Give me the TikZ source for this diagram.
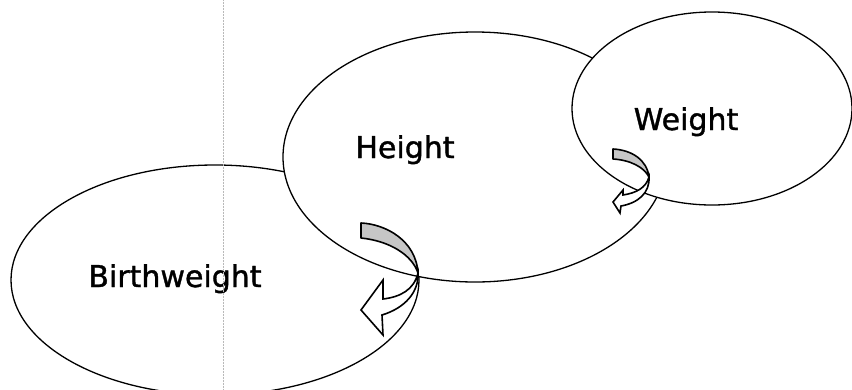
\documentclass[tikz,border=0pt]{standalone}
\usepackage{fontspec}
\setmainfont{DejaVu Sans}
\newfontfamily\labelfont[FakeBold=1.2]{DejaVu Sans}
\usetikzlibrary{shapes.geometric}
\begin{document}
\begin{tikzpicture}[x=1pt,y=-1pt,
  blob/.style={ellipse, draw=black, line width=1.3pt, fill=white, inner sep=0pt},
  label/.style={anchor=base, font=\labelfont\fontsize{30}{36}\selectfont},
  backface/.style={draw=black, line width=1.6pt, fill=gray!45, line join=round},
  frontface/.style={draw=black, line width=1.6pt, fill=white, line join=miter},
  guide/.style={draw=gray!55, line width=0.5pt, densely dotted}]
\useasboundingbox (0,0) rectangle (852,389);
\clip (0,0) rectangle (852,389);
% ellipses
\node[blob, minimum width=408pt, minimum height=230pt] (birth) at (215,280) {};
\node[blob, minimum width=384pt, minimum height=250pt] (height) at (475,157) {};
\node[blob, minimum width=280pt, minimum height=193pt] (weight) at (712,108.5) {};
% big curved arrow (Height -> Birthweight)
\coordinate (twistA) at (418,273);
\filldraw[backface] (361,223) .. controls (385,224) and (416,240) .. (twistA)
   .. controls (412,255) and (390,241) .. (361,238) -- cycle;
\filldraw[frontface] (twistA) .. controls (414,290) and (400,297) .. (383,299)
   -- (383,280) -- (361,310) -- (383,335) -- (382,315)
   .. controls (405,308) and (419,292) .. (twistA) -- cycle;
% small curved arrow (Weight -> Height)
\coordinate (twistB) at (649,177);
\filldraw[backface] (613,149) .. controls (632,150) and (647,160) .. (twistB)
   .. controls (644,167) and (630,160) .. (613,159) -- cycle;
\filldraw[frontface] (twistB) .. controls (646,188) and (636,193) .. (623,195)
   -- (623,190) -- (613,202) -- (620,213) -- (621,206)
   .. controls (638,203) and (650,193) .. (twistB) -- cycle;
% labels
\node[label] (tbirth) at (175,287) {Birthweight};
\node[label] (theight) at (405,158) {Height};
\node[label] (tweight) at (686,130) {Weight};
% faint vertical guide
\coordinate (vtop) at (223,0);
\coordinate (vbot) at (223,389);
\draw[guide] (vtop) -- (vbot);
\end{tikzpicture}
\end{document}
